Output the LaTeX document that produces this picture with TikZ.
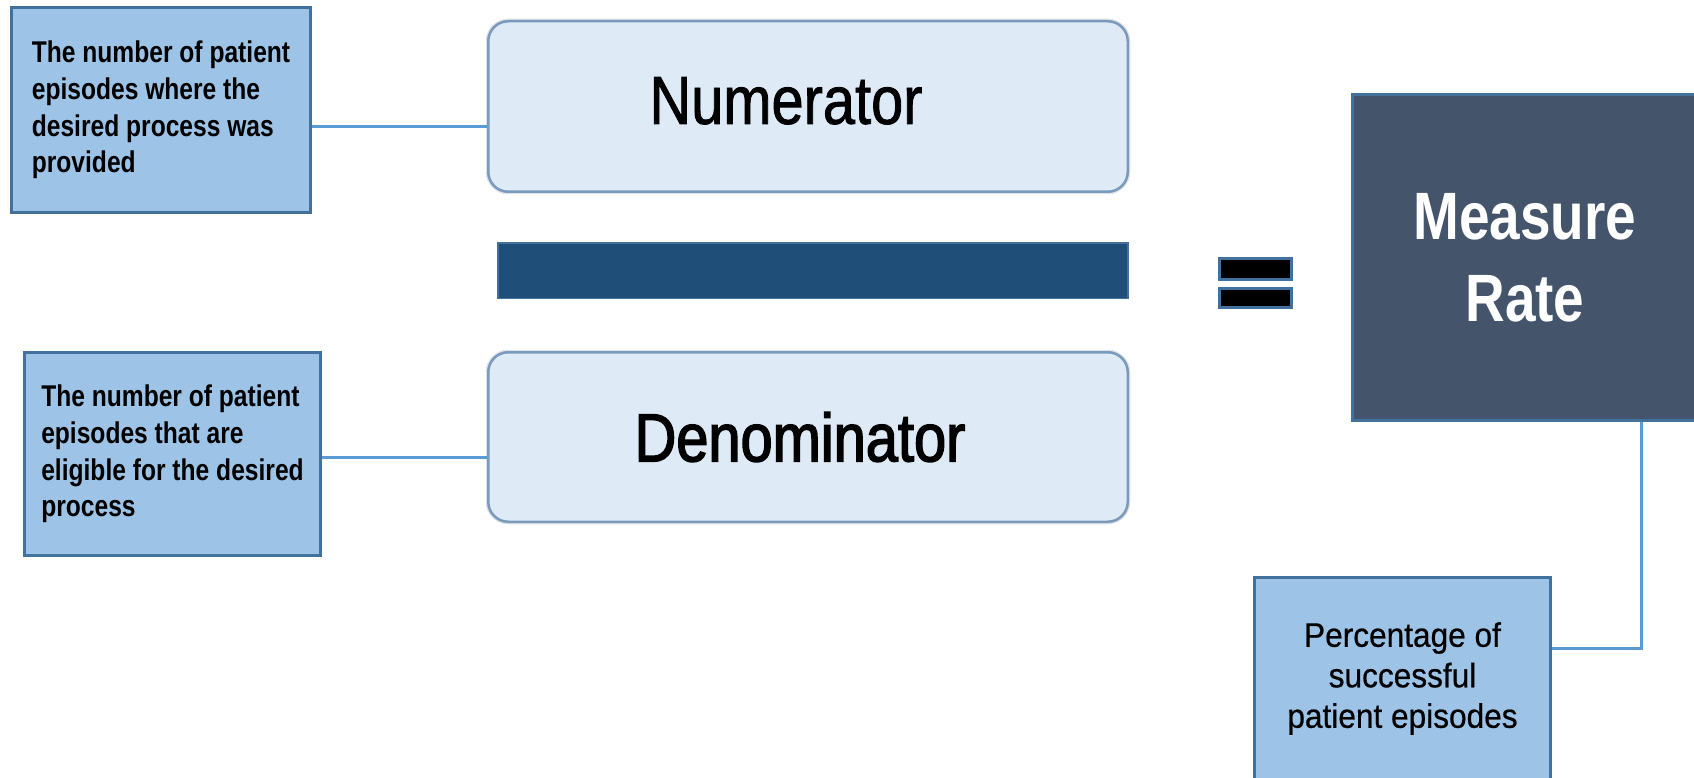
\documentclass[tikz,border=0pt]{standalone}
\usepackage{fontspec}
\setmainfont{Liberation Sans}
\newfontfamily\narrowA[FakeStretch=0.85,FakeBold=1.2]{Liberation Sans}
\newfontfamily\narrowAA[FakeStretch=0.85,FakeBold=2.2]{Liberation Sans}
\newfontfamily\narrowB[FakeStretch=0.82]{Liberation Sans}
\newfontfamily\narrowC[FakeStretch=0.93,FakeBold=0.6]{Liberation Sans}
\definecolor{boxfill}{HTML}{9DC3E6}
\definecolor{boxborder}{HTML}{41719C}
\definecolor{numfill}{HTML}{DEEAF6}
\definecolor{numborder}{HTML}{7A9ABB}
\definecolor{halo}{HTML}{DCE1E8}
\definecolor{barfill}{HTML}{1F4E79}
\definecolor{mrfill}{HTML}{44546A}
\definecolor{conncol}{HTML}{5B9BD5}
\tikzset{
  infobox/.style={draw=boxborder, line width=3pt, fill=boxfill, inner sep=0pt,
    font={\narrowB\bfseries\fontsize{30}{36.7}\selectfont}, align=left},
  termbox/.style={draw=numborder, line width=2.5pt, fill=numfill, rounded corners=20pt,
    inner sep=0pt, minimum width=639.5pt,
    preaction={draw=halo, line width=5pt}},
  barbox/.style={draw=boxborder, line width=1.5pt, fill=barfill, inner sep=0pt},
  eqbar/.style={draw=boxborder, line width=3pt, fill=black, inner sep=0pt, minimum width=72pt},
  rateblock/.style={draw=boxborder, line width=3pt, fill=mrfill, inner sep=0pt, text=white,
    font={\narrowB\bfseries\fontsize{67}{82}\selectfont}, align=center},
  resultbox/.style={draw=boxborder, line width=3pt, fill=boxfill, inner sep=0pt,
    font={\narrowC\fontsize{34}{40.5}\selectfont}, align=center},
  conn/.style={draw=conncol, line width=3pt}
}
\begin{document}
\begin{tikzpicture}[x=1pt,y=-1pt]
\useasboundingbox (0,0) rectangle (1694,778);
\fill[white] (0,0) rectangle (1694,778);

\node[infobox, minimum width=299pt, minimum height=205pt] (box1) at (161,110)
  {The number of patient\\episodes where the\\desired process was\\provided};
\node[infobox, minimum width=296pt, minimum height=203pt] (box2) at (172.5,454)
  {The number of patient\\episodes that are\\eligible for the desired\\process};

\node[termbox, minimum height=170.5pt, text depth=12pt,
  font={\narrowA\fontsize{68}{80}\selectfont}] (num) at (808,106.5) {Numerator\hspace*{44pt}};
\node[termbox, minimum height=169.5pt,
  font={\narrowAA\fontsize{68}{80}\selectfont}] (den) at (808,437) {Denominator\hspace*{16pt}};

\node[barbox, minimum width=630pt, minimum height=55.5pt] (bar) at (813,270.5) {};

\node[eqbar, minimum height=21pt] (eqa) at (1255.5,269) {};
\node[eqbar, minimum height=19pt] (eqb) at (1255.5,298) {};

\node[rateblock, minimum width=345pt, minimum height=326pt] (mr) at (1525,257.5) {Measure\\Rate};

\node[resultbox, minimum width=296pt, minimum height=202pt] (box3) at (1402.5,678.5)
  {Percentage of\\successful\\patient episodes};

\draw[conn] ([yshift=-17pt]box1.east) -- ([yshift=-17pt]box1.east -| num.west);
\draw[conn] ([yshift=-3pt]box2.east) -- ([yshift=-3pt]box2.east -| den.west);
\coordinate (tap) at (1641,648);
\draw[conn] (tap |- mr.south) -- (tap) -- (tap -| box3.east);
\end{tikzpicture}
\end{document}
